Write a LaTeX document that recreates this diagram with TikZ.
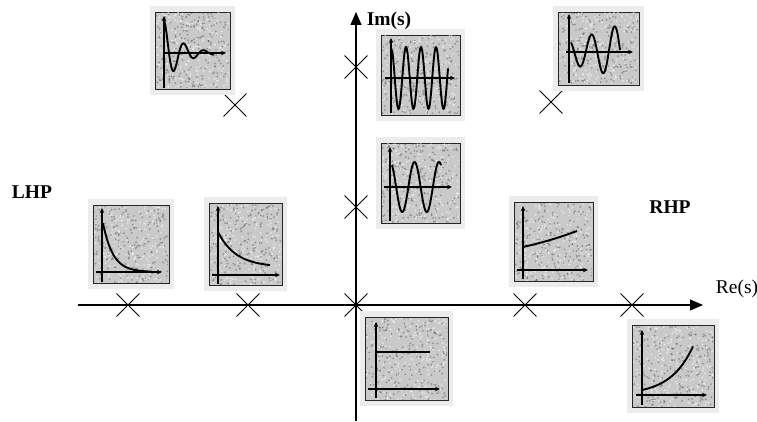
\documentclass[tikz,border=0pt]{standalone}
\usepackage{fontspec}
\setmainfont{Liberation Serif}
\usetikzlibrary{arrows.meta,shapes.misc}

\tikzset{
  polemark/.style={draw, cross out, line width=0.9pt, minimum size=22pt, inner sep=0pt},
  mainaxis/.style={line width=1.1pt, -{Triangle[length=13pt,width=11pt]}},
  paneledge/.style={fill=gray!15, draw=none},
  panelbox/.style={fill=gray!42, draw=black!85, line width=1.4pt},
  miniaxis/.style={line width=1.1pt, -{Stealth[length=5pt,width=4.5pt]}},
  response/.style={line width=1.9pt, line join=round, samples=80},
  boldlbl/.style={font=\fontsize{19.5}{22}\selectfont\bfseries, inner sep=0pt},
  plainlbl/.style={font=\fontsize{19.5}{22}\selectfont, inner sep=0pt},
}

% framed, speckled thumbnail: #1 name, (#2,#3) to (#4,#5) inner frame
\newcommand\sigpanel[5]{%
  \fill[paneledge] (#2-5,#3-6) rectangle (#4+5,#5+6);
  \node[panelbox, inner sep=0pt, minimum width={#4-#2}, minimum height={#5-#3}, anchor=north west]
    (#1) at (#2,#3) {};
  \begin{scope}
    \clip (#2+1,#3+1) rectangle (#4-1,#5-1);
    \foreach \k in {1,...,220}{%
      \pgfmathsetmacro\gx{#2+rnd*(#4-#2)}%
      \pgfmathsetmacro\gy{#3+rnd*(#5-#3)}%
      \fill[black!65, opacity=0.5] (\gx,\gy) circle (1.0);
      \pgfmathsetmacro\hx{#2+rnd*(#4-#2)}%
      \pgfmathsetmacro\hy{#3+rnd*(#5-#3)}%
      \fill[white, opacity=0.55] (\hx,\hy) circle (1.0);
    }
  \end{scope}
}

\begin{document}
\begin{tikzpicture}[x=1pt, y=-1pt]
\pgfmathsetseed{7}
\useasboundingbox (0,0) rectangle (757,422);
\fill[white] (0,0) rectangle (757,422);

% ---- s-plane axes ----
\coordinate (reL) at (78,305);
\coordinate (reR) at (703,305);
\coordinate (imB) at (356,421);
\coordinate (imT) at (356,12);
\draw[mainaxis] (reL) -- (reR);
\draw[mainaxis] (imB) -- (imT);

\node[plainlbl] (relbl) at (737,289) {Re(s)};
\node[boldlbl] (imlbl) at (389,21) {Im(s)};
\node[boldlbl] (lhp) at (32,192) {LHP};
\node[boldlbl] (rhp) at (670,207) {RHP};

% ---- pole locations ----
\node[polemark] (pA) at (235,105) {};
\node[polemark] (pB) at (356,67) {};
\node[polemark] (pC) at (356,207) {};
\node[polemark] (pD) at (356,305) {};
\node[polemark] (pE) at (128,305) {};
\node[polemark] (pF) at (248,305) {};
\node[polemark] (pG) at (525,305) {};
\node[polemark] (pH) at (632,305) {};
\node[polemark] (pI) at (551,102) {};

% ---- impulse-response thumbnails ----
% damped oscillation
\sigpanel{tA}{155}{12}{230}{89}
\begin{scope}[shift={(164,53)}]
  \draw[miniaxis] (0,35) -- (0,-37);
  \draw[miniaxis] (0,0) -- (62,0);
  \draw[response, domain=0:50, samples=100] plot (\x, {-33*exp(-\x/16)*cos(\x/20*360)});
\end{scope}

% undamped, high frequency
\sigpanel{tB}{381}{35}{460}{115}
\begin{scope}[shift={(391,78)}]
  \draw[miniaxis] (0,35) -- (0,-40);
  \draw[miniaxis] (-6,0) -- (64,0);
  \draw[response, domain=1:57, samples=120] plot (\x, {-31*cos(\x/15*360)});
\end{scope}

% growing oscillation
\sigpanel{tC}{558}{12}{639}{85}
\begin{scope}[shift={(569,52)}]
  \draw[miniaxis] (0,31) -- (0,-38);
  \draw[miniaxis] (-3,0) -- (64,0);
  \draw[response, domain=2:51, samples=100] plot (\x, {12*exp(\x/60)*cos((\x-11)/23*360)});
\end{scope}

% undamped, low frequency
\sigpanel{tD}{381}{143}{460}{223}
\begin{scope}[shift={(390,187)}]
  \draw[miniaxis] (0,34) -- (0,-40);
  \draw[miniaxis] (-6,0) -- (62,0);
  \draw[response, domain=2:51, samples=100] plot (\x, {-25*cos(\x/24.5*360)});
\end{scope}

% fast decay
\sigpanel{tE}{93}{205}{169}{283}
\begin{scope}[shift={(102,272)}]
  \draw[miniaxis] (0,10) -- (0,-64);
  \draw[miniaxis] (-6,0) -- (60,0);
  \draw[response, domain=1:50] plot (\x, {-54*exp(-\x/10)});
\end{scope}

% slow decay
\sigpanel{tF}{209}{203}{282}{285}
\begin{scope}[shift={(218,275)}]
  \draw[miniaxis] (0,9) -- (0,-69);
  \draw[miniaxis] (-6,0) -- (62,0);
  \draw[response, domain=0:52] plot (\x, {-(8+35*exp(-\x/18))});
\end{scope}

% slow growth
\sigpanel{tG}{514}{202}{593}{281}
\begin{scope}[shift={(523,270)}]
  \draw[miniaxis] (0,9) -- (0,-64);
  \draw[miniaxis] (-6,0) -- (65,0);
  \draw[response, domain=0:54] plot (\x, {-23*exp(\x/102)});
\end{scope}

% constant (pole at origin)
\sigpanel{tH}{365}{317}{448}{400}
\begin{scope}[shift={(376,389)}]
  \draw[miniaxis] (0,9) -- (0,-67);
  \draw[miniaxis] (-8,0) -- (64,0);
  \draw[response] (0,-37) -- (54,-37);
\end{scope}

% fast growth
\sigpanel{tI}{632}{325}{714}{407}
\begin{scope}[shift={(642,395)}]
  \draw[miniaxis] (0,10) -- (0,-65);
  \draw[miniaxis] (-6,0) -- (65,0);
  \draw[response, domain=0:51] plot (\x, {-5*exp(\x/22.4)});
\end{scope}

\end{tikzpicture}
\end{document}
